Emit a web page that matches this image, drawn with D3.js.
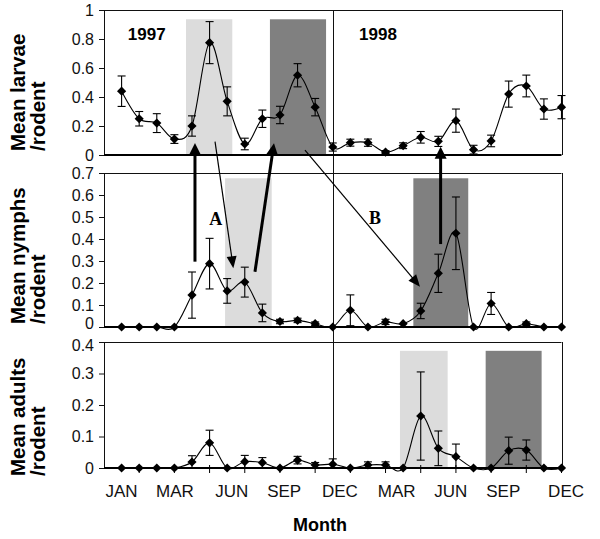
<!DOCTYPE html>
<html><head><meta charset="utf-8">
<script src="https://cdn.jsdelivr.net/npm/d3@7"></script>
<style>body{margin:0;background:#fff}svg{display:block;font-family:"Liberation Sans",Arial,sans-serif}</style>
</head><body><svg id="c" width="600" height="539"></svg>
<script>
// ---- data ----
const monthIndex = d3.range(26);
const larvae    = [0.44,0.25,0.22,0.11,0.20,0.775,0.37,0.076,0.25,0.276,0.55,0.33,0.055,0.085,0.085,0.02,0.064,0.122,0.094,0.237,0.037,0.097,0.42,0.476,0.317,0.33];
const larvaeErr = [0.105,0.05,0.065,0.03,0.07,0.145,0.1,0.04,0.06,0.06,0.08,0.06,0.028,0.024,0.025,0.01,0.02,0.04,0.035,0.08,0.03,0.04,0.09,0.075,0.07,0.08];
const nymphs    = [0,0,0,0,0.145,0.288,0.164,0.204,0.064,0.025,0.03,0.015,0,0.076,0,0.023,0.015,0.073,0.244,0.426,0,0.107,0,0.015,0,0];
const nymphsErr = [0,0,0,0,0.105,0.115,0.056,0.068,0.04,0.01,0.01,0.008,0,0.07,0,0.012,0,0.035,0.087,0.165,0,0.05,0,0.008,0,0];
const adults    = [0,0,0,0,0.019,0.08,0,0.02,0.017,0,0.025,0.0095,0.012,0,0.0095,0.0095,0,0.165,0.0625,0.036,0,0,0.055,0.057,0,0];
const adultsErr = [0,0,0,0,0.02,0.04,0,0.02,0.016,0,0.012,0.008,0.017,0,0.01,0.01,0,0.14,0.055,0.04,0,0,0.043,0.032,0,0];
const monthLabels = ["JAN","MAR","JUN","SEP","DEC","MAR","JUN","SEP","DEC"];
const monthLabelPos = [0,3.03,6.26,9.24,12.41,15.63,18.71,21.69,25.26];
const larvaeTicks = [0,0.2,0.4,0.6,0.8,1];
const nymphTicks = [0,0.1,0.2,0.3,0.4,0.5,0.6,0.7];
const adultTicks = [0,0.1,0.2,0.3,0.4];
const xTickIdx = [1,3,5,7,9,11,13,15,17,19,21,23,25];
// shaded periods: [start, end, shade]
const larvaeShade = [[3.66,6.29,"light"],[8.43,11.62,"dark"]];
const nymphShade  = [[5.88,8.53,"light"],[16.58,19.7,"dark"]];
const adultShade  = [[15.82,18.53,"light"],[20.69,23.87,"dark"]];
const yearBreak = 12;

const svg = d3.select("#c");
const x = d3.scaleLinear().domain([-1,25]).range([104,561.5]);
const panels = [
  {vals:larvae, err:larvaeErr, y:d3.scaleLinear().domain([0,1]).range([155,10]), ticks:larvaeTicks, fmt:d=>d===0||d===1?String(d):d.toFixed(1), shade:larvaeShade, shadeTop:0.936, title:["Mean larvae","/rodent"], tstart:151},
  {vals:nymphs, err:nymphsErr, y:d3.scaleLinear().domain([0,0.7]).range([327,173]), ticks:nymphTicks, fmt:d=>d===0?"0":d.toFixed(1), shade:nymphShade, shadeTop:0.676, title:["Mean nymphs","/rodent"], tstart:324},
  {vals:adults, err:adultsErr, y:d3.scaleLinear().domain([0,0.4]).range([468,342]), ticks:adultTicks, fmt:d=>d===0?"0":d.toFixed(1), shade:adultShade, shadeTop:0.372, title:["Mean adults","/rodent"], tstart:476}
];
const shadeCol = {light:"#dcdcdc", dark:"#808080"};

// shading
panels.forEach(p=>{
  svg.append("g").selectAll("rect").data(p.shade).join("rect")
    .attr("x",d=>x(d[0])).attr("width",d=>x(d[1])-x(d[0]))
    .attr("y",p.y(p.shadeTop)).attr("height",p.y(0)-p.y(p.shadeTop))
    .attr("fill",d=>shadeCol[d[2]]);
});

// frames
panels.forEach(p=>{
  const [y0,y1]=p.y.range();
  svg.append("line").attr("x1",x(-1)).attr("x2",x(25)).attr("y1",y1+0.5).attr("y2",y1+0.5).attr("stroke","#111").attr("stroke-width",1);
  svg.append("line").attr("x1",Math.round(x(25))+0.5).attr("x2",Math.round(x(25))+0.5).attr("y1",y1).attr("y2",y0).attr("stroke","#111").attr("stroke-width",1);
});
// year divider
const xb = Math.round(x(yearBreak))+0.5;
svg.append("line").attr("x1",xb).attr("x2",xb)
  .attr("y1",panels[0].y.range()[1]).attr("y2",panels[2].y(0)).attr("stroke","#111").attr("stroke-width",1);

// series
const diamond = d3.symbol().type(d3.symbolSquare).size(42);
panels.forEach(p=>{
  const g = svg.append("g");
  const line = d3.line().x((d,i)=>x(i)).y(d=>p.y(d)).curve(d3.curveCatmullRom.alpha(0));
  g.append("path").attr("d",line(p.vals)).attr("fill","none").attr("stroke","#000").attr("stroke-width",1.1);
  const eb = g.append("g").attr("stroke","#000").attr("stroke-width",1.1);
  monthIndex.forEach(i=>{
    const e=p.err[i]; if(!e) return;
    const lo=Math.max(0,p.vals[i]-e), hi=p.vals[i]+e;
    eb.append("line").attr("x1",x(i)).attr("x2",x(i)).attr("y1",p.y(lo)).attr("y2",p.y(hi));
    eb.append("line").attr("x1",x(i)-4).attr("x2",x(i)+4).attr("y1",p.y(hi)).attr("y2",p.y(hi));
    if(p.vals[i]-e>0.004) eb.append("line").attr("x1",x(i)-4).attr("x2",x(i)+4).attr("y1",p.y(lo)).attr("y2",p.y(lo));
  });
});

// axes
panels.forEach((p,k)=>{
  const ax = svg.append("g").attr("transform",`translate(${x(-1)},0)`)
    .call(d3.axisLeft(p.y).tickValues(p.ticks).tickFormat(p.fmt).tickSize(5).tickPadding(5));
  ax.select(".domain").attr("stroke","#111");
  ax.selectAll(".tick line").attr("stroke","#111");
  ax.selectAll("text").attr("font-size",16).attr("fill","#111").attr("font-family","'Liberation Sans',Arial,sans-serif");
  // keep stacked labels between panels apart
  if(k===1) ax.selectAll(".tick").filter(d=>d===0).select("text").attr("dy","0.12em");
  if(k===2) ax.selectAll(".tick").filter(d=>d===0.4).select("text").attr("dy","0.5em");
  // thick baseline
  svg.append("line").attr("x1",x(-1)).attr("x2",x(25)).attr("y1",p.y(0)).attr("y2",p.y(0)).attr("stroke","#000").attr("stroke-width",2.2);
  // y title
  const t = svg.append("text").attr("transform",`translate(0,${p.tstart}) rotate(-90)`)
    .attr("font-weight","bold").attr("font-size",20.5).attr("fill","#000");
  t.append("tspan").attr("x",0).attr("y",25).text(p.title[0]);
  t.append("tspan").attr("x",0).attr("y",45).text(p.title[1]);
});

// bottom x ticks
const yb = panels[2].y(0);
svg.append("g").selectAll("line").data(xTickIdx).join("line")
  .attr("x1",d=>x(d)).attr("x2",d=>x(d)).attr("y1",yb-3).attr("y2",yb+5).attr("stroke","#000").attr("stroke-width",1);

// markers
panels.forEach(p=>{
  svg.append("g").selectAll("path").data(p.vals).join("path")
    .attr("d",diamond).attr("transform",(d,i)=>`translate(${x(i)},${p.y(d)}) rotate(45)`).attr("fill","#000");
});

// month labels
svg.append("g").selectAll("text").data(monthLabels).join("text")
  .attr("x",(d,i)=>x(monthLabelPos[i])).attr("y",497).attr("text-anchor","middle")
  .attr("font-size",17).attr("fill","#111").text(d=>d);
svg.append("text").attr("x",320).attr("y",531).attr("text-anchor","middle").attr("font-weight","bold").attr("font-size",18).text("Month");

// year labels
const yTop = panels[0].y;
svg.append("text").attr("x",x(1.43)).attr("y",yTop(0.793)).attr("text-anchor","middle").attr("font-weight","bold").attr("font-size",17).text("1997");
svg.append("text").attr("x",x(14.57)).attr("y",yTop(0.793)).attr("text-anchor","middle").attr("font-weight","bold").attr("font-size",17).text("1998");

// arrows: [fromIdx, fromPanel, fromVal, toIdx, toPanel, toVal, thick]
const arrows = [
  [4.17,1,0.297, 4.17,0,0.083, true],
  [5.31,0,0.092, 6.35,1,0.267, false],
  [7.58,1,0.251, 8.66,0,0.081, true],
  [10.42,0,0.034, 16.96,1,0.183, false],
  [18.13,1,0.377, 18.13,0,0.057, true]
];
const ag = svg.append("g");
arrows.forEach(a=>{
  const x1=x(a[0]), y1=panels[a[1]].y(a[2]), x2=x(a[3]), y2=panels[a[4]].y(a[5]);
  const dx=x2-x1, dy=y2-y1, L=Math.hypot(dx,dy), ux=dx/L, uy=dy/L;
  const hl = 12, hw = a[6]?6:5;
  const bx=x2-ux*hl, by=y2-uy*hl;
  ag.append("line").attr("x1",x1).attr("y1",y1).attr("x2",bx+ux*1).attr("y2",by+uy*1)
    .attr("stroke","#000").attr("stroke-width",a[6]?3:1.2);
  ag.append("path").attr("d",`M${x2},${y2}L${bx-uy*hw},${by+ux*hw}L${bx+uy*hw},${by-ux*hw}Z`).attr("fill","#000");
});
const yMid = panels[1].y;
ag.append("text").attr("x",x(5.35)).attr("y",yMid(0.464)).attr("text-anchor","middle")
  .attr("font-family","'Liberation Serif',serif").attr("font-weight","bold").attr("font-size",18).text("A");
ag.append("text").attr("x",x(14.4)).attr("y",yMid(0.468)).attr("text-anchor","middle")
  .attr("font-family","'Liberation Serif',serif").attr("font-weight","bold").attr("font-size",18).text("B");
</script></body></html>
